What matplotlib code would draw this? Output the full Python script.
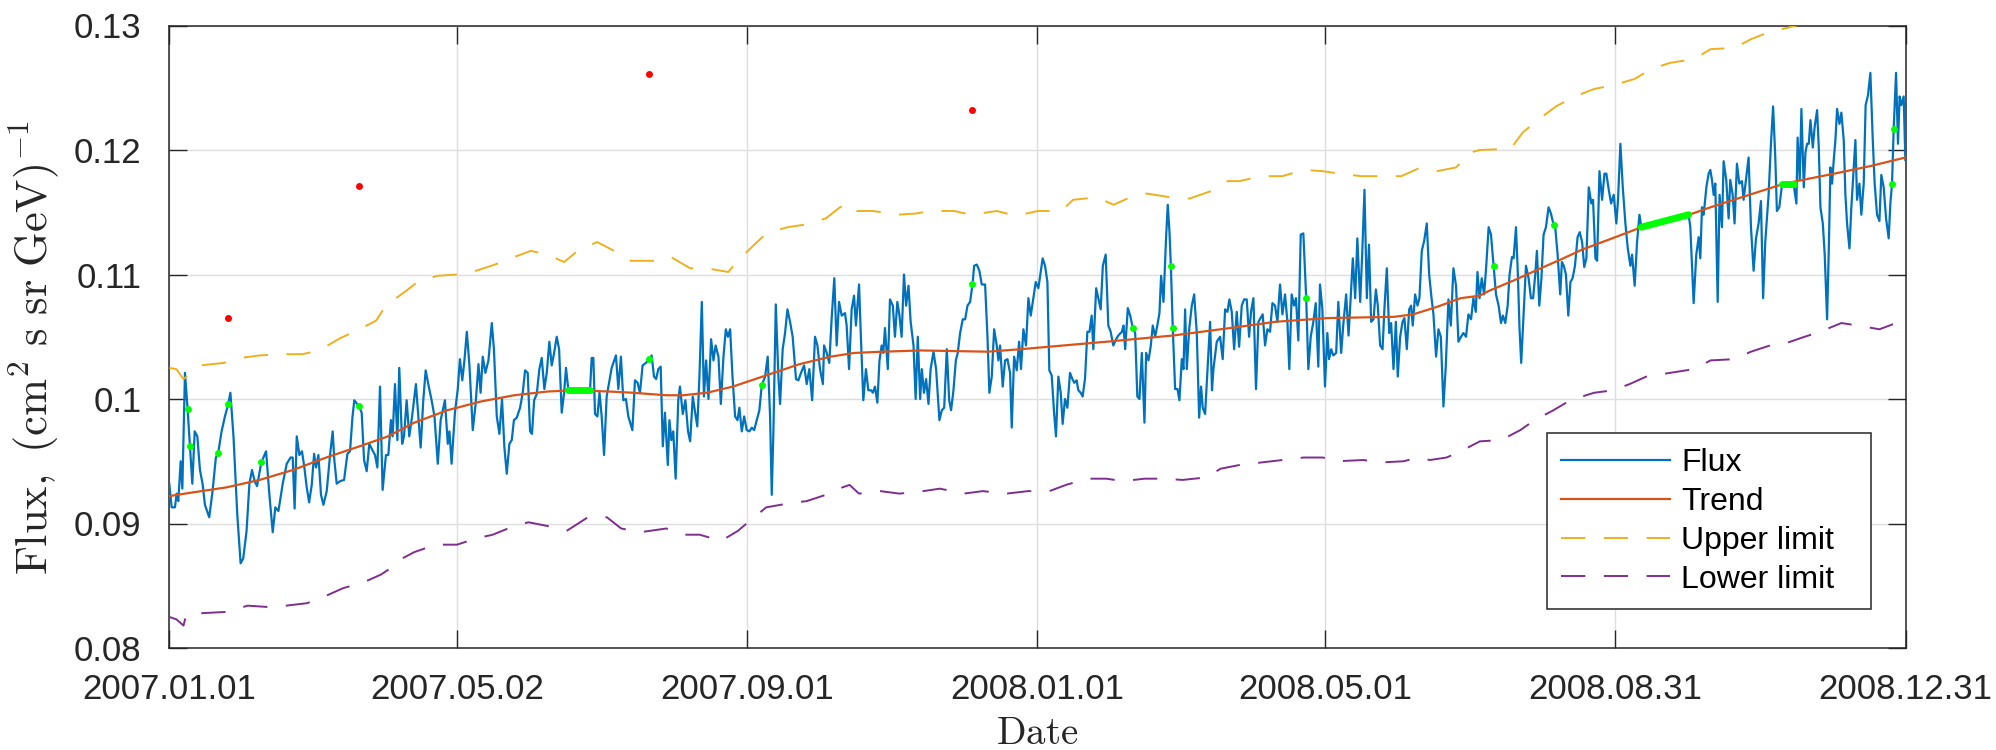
import datetime

import matplotlib

matplotlib.use("Agg")
import matplotlib.dates as mdates
import matplotlib.pyplot as plt

START = datetime.datetime(2007, 1, 1)

# daily flux, days counted from 2007.01.01
flux_day = [
    0.0, 1.0, 2.4, 3.1, 3.8, 4.8, 5.5, 6.6, 7.7, 8.7, 9.7, 10.7, 11.8, 12.9, 14.0, 15.0, 16.8, 18.2, 19.6, 20.6,
    22.0, 23.4, 24.8, 25.7, 27.0, 28.6, 30.0, 31.1, 32.5, 33.7, 34.8, 35.9, 36.9, 38.7, 40.7, 42.1, 43.5, 44.6,
    45.9, 47.7, 49.4, 51.0, 51.9, 52.7, 53.6, 54.7, 55.8, 56.8, 57.8, 58.8, 59.9, 60.9, 61.7, 62.7, 63.8, 64.8,
    66.2, 67.6, 68.7, 69.4, 70.4, 71.8, 73.5, 74.9, 76.0, 77.0, 77.8, 79.8, 80.9, 81.9, 83.0, 84.1, 85.4, 86.5,
    87.5, 88.6, 89.7, 91.1, 92.1, 93.2, 93.9, 94.9, 95.9, 96.7, 97.9, 98.7, 99.8, 100.9, 102.1, 103.7, 104.7,
    105.7, 106.8, 107.8, 108.9, 110.3, 111.5, 112.9, 114.1, 115.9, 117.1, 117.8, 118.7, 120.1, 121.3, 122.2,
    123.2, 124.1, 125.1, 126.2, 127.6, 128.8, 130.0, 130.9, 131.8, 132.9, 134.2, 135.6, 136.5, 137.7, 138.8,
    139.9, 140.9, 141.9, 143.0, 144.0, 144.9, 146.1, 147.5, 148.6, 149.6, 150.7, 151.7, 152.5, 153.4, 154.5,
    155.6, 156.6, 157.7, 158.7, 159.8, 160.8, 161.8, 162.9, 163.9, 165.0, 166.0, 166.8, 167.8, 176.9, 177.6,
    178.3, 179.0, 180.0, 180.9, 181.8, 182.8, 183.9, 186.0, 187.8, 188.8, 189.9, 190.9, 192.0, 193.0, 194.7,
    195.8, 196.9, 197.9, 199.0, 200.4, 201.9, 202.8, 203.8, 204.7, 205.6, 206.6, 207.5, 208.4, 209.6, 210.3,
    211.1, 211.9, 212.9, 214.0, 214.7, 215.9, 217.0, 218.1, 219.0, 220.1, 221.1, 222.0, 222.9, 223.9, 224.8,
    225.7, 226.7, 227.8, 228.8, 229.7, 230.9, 231.9, 233.0, 234.0, 234.9, 235.8, 236.8, 237.9, 238.9, 239.7,
    240.7, 241.7, 242.8, 243.9, 244.9, 245.9, 247.0, 248.1, 249.1, 250.5, 251.6, 252.6, 253.3, 254.0, 255.0,
    256.1, 256.8, 257.9, 258.9, 259.9, 261.0, 262.1, 263.5, 264.5, 265.6, 266.9, 268.0, 269.1, 270.3, 271.5,
    272.5, 273.6, 274.8, 275.3, 276.4, 277.5, 278.5, 279.6, 280.6, 281.6, 282.7, 284.1, 284.8, 285.8, 286.9,
    287.9, 288.7, 290.0, 290.7, 291.8, 292.9, 293.9, 295.1, 295.8, 296.7, 297.7, 298.6, 299.5, 300.2, 300.9,
    302.1, 303.0, 304.2, 305.1, 306.1, 307.0, 307.9, 308.9, 309.8, 310.8, 311.7, 312.9, 313.8, 314.7, 315.7,
    316.4, 317.3, 318.2, 319.2, 320.1, 321.3, 322.4, 323.8, 324.8, 325.8, 326.9, 327.9, 328.7, 329.7, 330.7,
    331.5, 332.5, 333.6, 334.6, 335.6, 336.7, 337.7, 338.4, 339.5, 340.6, 341.6, 343.0, 344.0, 344.8, 345.8,
    346.8, 347.9, 348.6, 349.3, 350.4, 351.4, 352.4, 353.5, 354.2, 355.2, 356.3, 357.3, 358.1, 359.1, 360.2,
    361.2, 362.2, 363.3, 364.3, 365.4, 367.2, 368.2, 369.2, 370.0, 371.0, 372.0, 372.8, 373.8, 374.8, 375.6,
    376.6, 377.6, 378.7, 379.7, 380.5, 381.5, 382.2, 383.2, 384.0, 385.0, 386.0, 386.9, 387.8, 388.5, 389.7,
    390.6, 391.6, 392.5, 393.7, 394.8, 395.8, 396.9, 398.1, 399.0, 400.5, 401.2, 401.9, 403.0, 404.0, 405.1,
    406.1, 407.0, 407.9, 408.9, 410.0, 410.7, 411.7, 412.6, 413.5, 414.5, 415.4, 416.3, 417.0, 418.0, 419.1,
    419.8, 420.5, 421.1, 421.9, 422.9, 423.9, 424.7, 425.7, 426.4, 427.1, 427.8, 428.8, 429.9, 430.9, 432.0,
    433.0, 433.8, 434.5, 435.5, 436.6, 437.6, 438.4, 439.0, 440.4, 441.8, 442.9, 443.9, 444.9, 445.7, 446.7,
    447.7, 448.8, 449.8, 450.9, 451.9, 453.0, 454.0, 454.8, 455.8, 456.9, 457.9, 459.7, 460.7, 461.7, 462.8,
    463.8, 464.9, 465.9, 467.0, 468.0, 469.1, 470.1, 470.9, 471.9, 472.9, 473.7, 474.7, 475.7, 476.8, 478.0,
    478.9, 479.9, 481.0, 482.0, 483.1, 483.8, 484.8, 485.9, 486.9, 487.6, 488.5, 489.4, 490.6, 491.5, 492.7,
    493.7, 494.8, 495.8, 496.7, 497.6, 498.6, 499.5, 500.7, 501.6, 502.5, 503.5, 504.4, 505.3, 506.3, 507.3,
    508.1, 509.1, 510.1, 510.9, 511.9, 512.9, 513.7, 514.7, 515.7, 516.5, 517.5, 518.5, 519.3, 520.3, 521.3,
    522.1, 522.8, 523.8, 524.8, 525.6, 526.6, 527.6, 528.7, 529.7, 530.7, 531.5, 532.6, 533.6, 534.6, 535.7,
    536.7, 537.8, 538.8, 539.9, 541.0, 542.0, 543.1, 544.1, 545.2, 546.2, 547.3, 548.3, 549.3, 550.0, 550.9,
    551.8, 552.8, 553.7, 554.7, 555.7, 556.8, 557.8, 558.9, 559.9, 560.7, 561.7, 562.7, 563.5, 564.5, 565.2,
    566.2, 567.0, 567.7, 568.4, 569.4, 570.4, 571.5, 572.5, 573.4, 574.3, 575.0, 576.0, 576.9, 577.8, 578.8,
    579.9, 580.9, 582.0, 582.7, 583.7, 584.8, 585.5, 586.3, 587.2, 588.2, 589.1, 590.0, 591.0, 592.1, 593.0,
    594.0, 594.9, 595.8, 596.8, 597.9, 598.6, 599.6, 600.3, 601.3, 602.4, 603.4, 604.2, 605.3, 606.2, 607.3,
    608.4, 609.1, 610.1, 611.1, 612.2, 613.2, 614.3, 615.0, 616.1, 617.1, 618.1, 618.9, 638.8, 639.5, 640.9,
    642.0, 643.0, 643.7, 644.4, 645.1, 646.3, 647.2, 647.9, 648.6, 649.3, 650.0, 651.0, 651.8, 652.8, 653.5,
    654.6, 655.6, 656.3, 657.3, 658.1, 659.1, 660.1, 661.2, 661.9, 662.9, 664.0, 665.0, 666.1, 667.1, 668.2,
    669.2, 670.1, 671.0, 672.4, 673.4, 674.3, 675.2, 675.9, 676.9, 678.1, 682.9, 684.1, 684.6, 685.5, 686.2,
    687.2, 687.9, 688.6, 689.3, 690.0, 691.0, 691.8, 692.8, 693.5, 694.2, 695.2, 696.0, 697.0, 697.7, 698.4,
    699.1, 699.8, 700.5, 701.2, 702.2, 703.0, 704.0, 704.7, 705.4, 706.4, 707.2, 708.2, 708.9, 709.6, 710.6,
    711.4, 712.4, 713.2, 714.2, 715.2, 716.2, 717.0, 718.0, 719.0, 719.8, 720.8, 721.8, 722.9, 723.6, 724.3,
    725.0, 726.0, 726.8, 727.5, 728.2, 729.2, 729.9,
]
flux_val = [
    0.0932, 0.0913, 0.0913, 0.0924, 0.0918, 0.0950, 0.0928, 0.1021, 0.0992, 0.0962, 0.0932, 0.0974, 0.0970,
    0.0943, 0.0932, 0.0915, 0.0905, 0.0926, 0.0953, 0.0957, 0.0974, 0.0986, 0.0996, 0.1005, 0.0970, 0.0907,
    0.0868, 0.0872, 0.0894, 0.0932, 0.0943, 0.0934, 0.0930, 0.0949, 0.0958, 0.0923, 0.0893, 0.0913, 0.0910,
    0.0932, 0.0948, 0.0953, 0.0953, 0.0912, 0.0970, 0.0955, 0.0958, 0.0945, 0.0929, 0.0917, 0.0931, 0.0956,
    0.0945, 0.0955, 0.0923, 0.0915, 0.0926, 0.0955, 0.0974, 0.0951, 0.0932, 0.0934, 0.0935, 0.0956, 0.0958,
    0.0985, 0.0999, 0.0994, 0.0989, 0.0951, 0.0942, 0.0964, 0.0959, 0.0955, 0.0945, 0.1010, 0.0927, 0.0955,
    0.0955, 0.0983, 0.0970, 0.1012, 0.0967, 0.1025, 0.0964, 0.0970, 0.0999, 0.0970, 0.0986, 0.1012, 0.0986,
    0.0961, 0.0999, 0.1023, 0.1012, 0.0999, 0.0986, 0.0948, 0.0983, 0.0999, 0.0964, 0.0974, 0.0948, 0.0989,
    0.1008, 0.1032, 0.1015, 0.1031, 0.1054, 0.1027, 0.0975, 0.0996, 0.1028, 0.1005, 0.1034, 0.1021, 0.1031,
    0.1061, 0.1040, 0.0986, 0.0972, 0.1000, 0.0961, 0.0940, 0.0964, 0.0967, 0.0983, 0.0985, 0.0993, 0.1005,
    0.1023, 0.1021, 0.0974, 0.0972, 0.0999, 0.1004, 0.1024, 0.1033, 0.1008, 0.1021, 0.1046, 0.1027, 0.1037,
    0.1050, 0.1040, 0.0989, 0.1005, 0.1025, 0.1007, 0.1007, 0.1033, 0.1033, 0.0988, 0.0986, 0.1005, 0.0986,
    0.0955, 0.1002, 0.1025, 0.1035, 0.1008, 0.1034, 0.0999, 0.1000, 0.0986, 0.0975, 0.1015, 0.1013, 0.1005,
    0.1027, 0.1029, 0.1032, 0.1035, 0.1018, 0.1016, 0.1024, 0.1026, 0.0962, 0.0989, 0.0947, 0.0983, 0.0967,
    0.0974, 0.0936, 0.0999, 0.1010, 0.0988, 0.0999, 0.0974, 0.0966, 0.1002, 0.0989, 0.0978, 0.1018, 0.1078,
    0.1002, 0.1031, 0.1000, 0.1048, 0.1031, 0.1043, 0.1034, 0.0996, 0.1034, 0.1056, 0.1050, 0.1056, 0.1018,
    0.0986, 0.0983, 0.0993, 0.0974, 0.0986, 0.0975, 0.0974, 0.0977, 0.0975, 0.0983, 0.0991, 0.1011, 0.1018,
    0.1034, 0.0986, 0.0923, 0.0974, 0.1076, 0.1018, 0.0996, 0.1040, 0.1053, 0.1072, 0.1062, 0.1050, 0.1016,
    0.1015, 0.1021, 0.1027, 0.1012, 0.1024, 0.0999, 0.1050, 0.1043, 0.1024, 0.1012, 0.1043, 0.1037, 0.1029,
    0.1065, 0.1097, 0.1043, 0.1078, 0.1067, 0.1069, 0.1059, 0.1024, 0.1072, 0.1083, 0.1059, 0.1092, 0.1054,
    0.0999, 0.1024, 0.1007, 0.1007, 0.1005, 0.1010, 0.0997, 0.1031, 0.1043, 0.1037, 0.1057, 0.1024, 0.1080,
    0.1075, 0.1050, 0.1078, 0.1067, 0.1050, 0.1100, 0.1075, 0.1091, 0.1062, 0.1043, 0.1000, 0.1050, 0.1000,
    0.1024, 0.1005, 0.1016, 0.0996, 0.1024, 0.1038, 0.1024, 0.0983, 0.0991, 0.0993, 0.1040, 0.0999, 0.0991,
    0.1007, 0.1031, 0.1037, 0.1053, 0.1064, 0.1064, 0.1075, 0.1078, 0.1092, 0.1107, 0.1108, 0.1103, 0.1092,
    0.1092, 0.1050, 0.1005, 0.1018, 0.1056, 0.1043, 0.1031, 0.1043, 0.1010, 0.1031, 0.1032, 0.1021, 0.0977,
    0.1034, 0.1023, 0.1046, 0.1024, 0.1056, 0.1043, 0.1081, 0.1067, 0.1081, 0.1094, 0.1089, 0.1113, 0.1107,
    0.1094, 0.1023, 0.1019, 0.0989, 0.0970, 0.1018, 0.1005, 0.0980, 0.1000, 0.0993, 0.1021, 0.1016, 0.1013,
    0.1015, 0.1007, 0.1005, 0.1002, 0.1016, 0.1054, 0.1054, 0.1067, 0.1040, 0.1089, 0.1081, 0.1072, 0.1107,
    0.1116, 0.1059, 0.1054, 0.1043, 0.1048, 0.1051, 0.1054, 0.1059, 0.1040, 0.1073, 0.1067, 0.1057, 0.1053,
    0.1002, 0.1000, 0.1037, 0.0981, 0.1037, 0.1031, 0.1042, 0.1059, 0.1050, 0.1059, 0.1069, 0.1099, 0.1078,
    0.1130, 0.1156, 0.1135, 0.1107, 0.1057, 0.1008, 0.1008, 0.0999, 0.1032, 0.1024, 0.1072, 0.1024, 0.1056,
    0.1075, 0.1084, 0.1053, 0.0985, 0.1010, 0.0993, 0.0988, 0.1027, 0.1062, 0.1007, 0.1024, 0.1046, 0.1050,
    0.1032, 0.1072, 0.1070, 0.1080, 0.1070, 0.1040, 0.1070, 0.1042, 0.1075, 0.1080, 0.1080, 0.1050, 0.1070,
    0.1081, 0.1008, 0.1062, 0.1068, 0.1043, 0.1056, 0.1054, 0.1077, 0.1075, 0.1062, 0.1092, 0.1068, 0.1084,
    0.1062, 0.1024, 0.1084, 0.1075, 0.1081, 0.1047, 0.1132, 0.1133, 0.1081, 0.1024, 0.1050, 0.1062, 0.1077,
    0.1026, 0.1092, 0.1072, 0.1010, 0.1053, 0.1032, 0.1040, 0.1035, 0.1037, 0.1078, 0.1037, 0.1062, 0.1084,
    0.1051, 0.1081, 0.1113, 0.1081, 0.1129, 0.1078, 0.1119, 0.1168, 0.1081, 0.1124, 0.1062, 0.1064, 0.1088,
    0.1075, 0.1043, 0.1040, 0.1073, 0.1105, 0.1053, 0.1061, 0.1024, 0.1062, 0.1018, 0.1050, 0.1062, 0.1065,
    0.1040, 0.1072, 0.1075, 0.1059, 0.1084, 0.1075, 0.1081, 0.1119, 0.1127, 0.1141, 0.1100, 0.1081, 0.1068,
    0.1034, 0.1056, 0.1050, 0.0994, 0.1027, 0.1080, 0.1059, 0.1105, 0.1091, 0.1046, 0.1050, 0.1053, 0.1050,
    0.1068, 0.1064, 0.1081, 0.1070, 0.1102, 0.1081, 0.1097, 0.1084, 0.1107, 0.1138, 0.1132, 0.1107, 0.1084,
    0.1075, 0.1061, 0.1067, 0.1061, 0.1075, 0.1100, 0.1114, 0.1113, 0.1138, 0.1100, 0.1056, 0.1029, 0.1068,
    0.1107, 0.1097, 0.1081, 0.1081, 0.1100, 0.1119, 0.1075, 0.1097, 0.1132, 0.1138, 0.1154, 0.1149, 0.1140,
    0.1138, 0.1116, 0.1084, 0.1110, 0.1107, 0.1100, 0.1067, 0.1094, 0.1097, 0.1107, 0.1130, 0.1134, 0.1126,
    0.1106, 0.1113, 0.1170, 0.1157, 0.1160, 0.1113, 0.1111, 0.1183, 0.1160, 0.1181, 0.1181, 0.1167, 0.1157,
    0.1164, 0.1141, 0.1160, 0.1205, 0.1170, 0.1141, 0.1121, 0.1107, 0.1116, 0.1091, 0.1126, 0.1148, 0.1138,
    0.1148, 0.1138, 0.1077, 0.1116, 0.1130, 0.1113, 0.1154, 0.1148, 0.1171, 0.1181, 0.1184, 0.1176, 0.1164,
    0.1173, 0.1078, 0.1164, 0.1138, 0.1191, 0.1176, 0.1145, 0.1176, 0.1164, 0.1141, 0.1189, 0.1173, 0.1175,
    0.1160, 0.1176, 0.1194, 0.1138, 0.1103, 0.1129, 0.1141, 0.1159, 0.1081, 0.1126, 0.1164, 0.1205, 0.1235,
    0.1195, 0.1151, 0.1154, 0.1173, 0.1173, 0.1157, 0.1210, 0.1176, 0.1233, 0.1170, 0.1198, 0.1205, 0.1205,
    0.1224, 0.1202, 0.1219, 0.1232, 0.1202, 0.1154, 0.1141, 0.1116, 0.1064, 0.1119, 0.1186, 0.1173, 0.1192,
    0.1208, 0.1233, 0.1221, 0.1230, 0.1208, 0.1164, 0.1141, 0.1121, 0.1154, 0.1186, 0.1208, 0.1160, 0.1173,
    0.1148, 0.1173, 0.1236, 0.1244, 0.1262, 0.1208, 0.1173, 0.1148, 0.1143, 0.1180, 0.1170, 0.1145, 0.1129,
    0.1157, 0.1173, 0.1217, 0.1262, 0.1205, 0.1243, 0.1236, 0.1243, 0.1192,
]

trend_day = [0, 10, 24, 38, 52, 66, 80, 92, 103, 117, 131, 145, 159, 170, 185, 195, 209, 216, 226, 237, 251,
             265, 278, 288, 300, 316, 344, 358, 370, 394, 422, 450, 465, 487, 515, 523, 533, 543, 551, 555, 565,
             579, 585, 594, 608, 619, 639, 648, 679, 700, 715, 730]
trend_val = [0.0922, 0.0925, 0.0929, 0.0935, 0.0943, 0.0953, 0.0962, 0.0970, 0.0981, 0.0991, 0.0998, 0.1003,
             0.1006, 0.1007, 0.1006, 0.1005, 0.1003, 0.1003, 0.1005, 0.1010, 0.1019, 0.1028, 0.1034, 0.1037,
             0.1038, 0.1039, 0.1038, 0.1040, 0.1042, 0.1046, 0.1051, 0.1058, 0.1062, 0.1065, 0.1066, 0.1068,
             0.1074, 0.1081, 0.1083, 0.1087, 0.1095, 0.1107, 0.1112, 0.1120, 0.1130, 0.1138, 0.1148, 0.1154,
             0.1173, 0.1181, 0.1187, 0.1194]

upper_day = [0, 3, 6, 13, 23, 30, 38, 47, 56, 63, 72, 79, 87, 91, 99, 105, 113, 121, 129, 137, 145, 152, 159,
             166, 173, 180, 187, 194, 204, 211, 219, 226, 235, 240, 246, 251, 260, 267, 276, 282, 286, 289, 296,
             306, 314, 320, 330, 337, 348, 356, 365, 375, 380, 390, 397, 404, 411, 421, 429, 438, 445, 450, 459,
             468, 477, 485, 492, 501, 518, 525, 533, 541, 547, 551, 564, 569, 576, 583, 591, 599, 607, 616, 623,
             631, 641, 648, 658, 665, 673, 680, 684, 700, 730]
upper_val = [0.1025, 0.1024, 0.1016, 0.1027, 0.1029, 0.1033, 0.1035, 0.1036, 0.1036, 0.1039, 0.1049, 0.1055,
             0.1063, 0.1075, 0.1086, 0.1095, 0.1099, 0.1100, 0.1103, 0.1108, 0.1114, 0.1119, 0.1116, 0.1110,
             0.1121, 0.1126, 0.1119, 0.1111, 0.1111, 0.1114, 0.1105, 0.1105, 0.1102, 0.1113, 0.1124, 0.1133,
             0.1138, 0.1140, 0.1145, 0.1154, 0.1157, 0.1151, 0.1151, 0.1148, 0.1149, 0.1151, 0.1151, 0.1148,
             0.1151, 0.1147, 0.1151, 0.1151, 0.1160, 0.1162, 0.1156, 0.1162, 0.1165, 0.1162, 0.1161, 0.1167,
             0.1175, 0.1175, 0.1179, 0.1179, 0.1184, 0.1183, 0.1181, 0.1179, 0.1179, 0.1185, 0.1183, 0.1186,
             0.1198, 0.1200, 0.1201, 0.1214, 0.1225, 0.1235, 0.1243, 0.1249, 0.1252, 0.1257, 0.1265, 0.1270,
             0.1273, 0.1281, 0.1282, 0.1289, 0.1295, 0.1298, 0.1300, 0.1306, 0.1315]

lower_day = [0, 3, 6, 7, 14, 24, 33, 41, 49, 58, 66, 73, 82, 89, 93, 97, 103, 112, 121, 129, 136, 145, 151,
             159, 167, 176, 184, 190, 198, 209, 216, 223, 232, 239, 244, 251, 260, 268, 276, 283, 286, 290, 299,
             307, 317, 324, 334, 342, 352, 361, 370, 377, 386, 394, 401, 410, 418, 426, 436, 442, 450, 459, 468,
             477, 485, 491, 502, 509, 519, 525, 530, 537, 543, 551, 560, 568, 574, 582, 589, 599, 607, 614, 621,
             631, 641, 648, 658, 665, 673, 680, 686, 694, 703, 710, 719, 726, 730]
lower_val = [0.0825, 0.0823, 0.0818, 0.0826, 0.0828, 0.0829, 0.0834, 0.0833, 0.0834, 0.0836, 0.0842, 0.0848,
             0.0853, 0.0859, 0.0864, 0.0871, 0.0877, 0.0883, 0.0883, 0.0888, 0.0891, 0.0898, 0.0901, 0.0898,
             0.0894, 0.0905, 0.0905, 0.0896, 0.0893, 0.0896, 0.0891, 0.0891, 0.0886, 0.0894, 0.0902, 0.0913,
             0.0916, 0.0918, 0.0923, 0.0929, 0.0931, 0.0924, 0.0926, 0.0924, 0.0926, 0.0928, 0.0924, 0.0926,
             0.0924, 0.0926, 0.0926, 0.0931, 0.0936, 0.0936, 0.0934, 0.0936, 0.0936, 0.0935, 0.0937, 0.0944,
             0.0947, 0.0949, 0.0951, 0.0953, 0.0953, 0.0950, 0.0951, 0.0949, 0.0950, 0.0953, 0.0951, 0.0953,
             0.0958, 0.0966, 0.0967, 0.0975, 0.0983, 0.0991, 0.0999, 0.1005, 0.1007, 0.1012, 0.1018, 0.1021,
             0.1024, 0.1031, 0.1032, 0.1038, 0.1043, 0.1045, 0.1049, 0.1054, 0.1061, 0.1059, 0.1056, 0.1061,
             0.1061]

# points flagged as outliers and the values put in their place
outlier_day = [24.8, 79.8, 201.9, 337.7]
outlier_val = [0.1065, 0.1171, 0.1261, 0.1232]
fixed_day = [7.7, 8.7, 20.6, 24.8, 38.7, 79.8, 201.9, 249.1, 337.7, 405.1, 421.1, 421.9, 478.0, 556.8, 582.0,
             724.3, 725.0]
fixed_val = [0.0992, 0.0962, 0.0957, 0.0996, 0.0949, 0.0994, 0.1032, 0.1011, 0.1092, 0.1057, 0.1107, 0.1057,
             0.1081, 0.1107, 0.1140, 0.1173, 0.1217]

# stretches with no data, filled from the trend
gap_start = [167.8, 618.9, 678.1]
gap_end = [176.9, 638.8, 682.9]

tick_labels = ["2007.01.01", "2007.05.02", "2007.09.01", "2008.01.01", "2008.05.01", "2008.08.31",
               "2008.12.31"]
y_ticks = [0.08, 0.09, 0.10, 0.11, 0.12, 0.13]


def to_dates(days):
    return [START + datetime.timedelta(days=d) for d in days]


plt.rcParams.update(
    {
        "font.family": ["Liberation Sans", "DejaVu Sans"],
        "mathtext.fontset": "cm",
    }
)

BLUE = "#0072BD"
ORANGE = "#D95319"
YELLOW = "#EDB120"
PURPLE = "#7E2F8E"
DASH = (12.5, 9.5)

fig = plt.figure(figsize=(19.96, 7.5), dpi=100)
ax = fig.add_axes([0.0848, 0.136, 0.8699, 0.830])

ax.plot(to_dates(flux_day), flux_val, color=BLUE, lw=1.6, label="Flux", zorder=3)
ax.plot(to_dates(trend_day), trend_val, color=ORANGE, lw=1.6, label="Trend", zorder=4)
ax.plot(to_dates(upper_day), upper_val, color=YELLOW, lw=1.4, dashes=DASH, label="Upper limit", zorder=3)
ax.plot(to_dates(lower_day), lower_val, color=PURPLE, lw=1.4, dashes=DASH, label="Lower limit", zorder=3)

ax.plot(to_dates(outlier_day), outlier_val, "o", color="#FF0000", ms=5, mec="none", zorder=5)
for s, e in zip(gap_start, gap_end):
    seg = [(d, v) for d, v in zip(flux_day, flux_val) if s <= d <= e]
    ax.plot(to_dates([d for d, _ in seg]), [v for _, v in seg], color="#00FF00", lw=5,
            solid_capstyle="round", zorder=5)
ax.plot(to_dates(fixed_day), fixed_val, "o", color="#00FF00", ms=5, mec="none", zorder=5)

ticks = [datetime.datetime.strptime(t, "%Y.%m.%d") for t in tick_labels]
ax.set_xlim(ticks[0], ticks[-1])
ax.set_xticks(ticks)
ax.xaxis.set_major_formatter(mdates.DateFormatter("%Y.%m.%d"))
ax.set_ylim(y_ticks[0], y_ticks[-1])
ax.set_yticks(y_ticks)
ax.set_yticklabels(["%g" % t for t in y_ticks])

ax.grid(True, color="#dedede", lw=1.0)
ax.set_axisbelow(True)
ax.tick_params(direction="in", length=13, width=1.0, top=True, right=True, labelsize=25,
               colors="#262626")
ax.tick_params(axis="x", pad=18)
ax.tick_params(axis="y", pad=20)
for sp in ax.spines.values():
    sp.set_color("#262626")
    sp.set_linewidth(1.1)

fig.text(0.017, 0.536, r"$\mathrm{Flux,\ (cm^2\ s\ sr\ GeV)^{-1}}$", rotation=90, ha="center",
         va="center", fontsize=32, color="#262626")
fig.text(0.5195, 0.021, r"$\mathrm{Date}$", ha="center", va="center", fontsize=28, color="#262626")

leg = ax.legend(loc="lower left", bbox_to_anchor=(0.7935, 0.0626, 0.1865, 0.3), mode="expand",
                borderaxespad=0, fontsize=23, handlelength=3.4, handletextpad=0.34, labelspacing=0.28,
                borderpad=0.45, fancybox=False, framealpha=1, edgecolor="#262626")
leg.get_frame().set_linewidth(1.1)

fig.savefig("out.png", dpi=100)
